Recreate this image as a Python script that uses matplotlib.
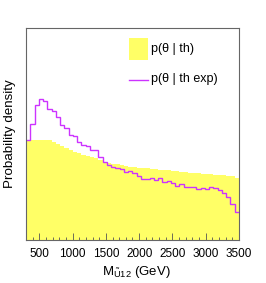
import numpy as np
import matplotlib
matplotlib.use("Agg")
import matplotlib.pyplot as plt
from matplotlib.patches import Rectangle
from matplotlib.lines import Line2D

plt.rcParams['font.family'] = ['Liberation Sans', 'DejaVu Sans']
plt.rcParams['mathtext.fontset'] = 'custom'
plt.rcParams['mathtext.rm'] = 'Liberation Sans'
plt.rcParams['mathtext.it'] = 'Liberation Sans:italic'

# binning
x_min, x_max, n_bins = 300, 3500, 50

# p(theta | th) - yellow filled histogram (arbitrary units)
th = [99, 99.5, 100, 100, 100, 99.5, 98, 96, 94, 91.5,
      90, 88, 86.7, 85, 84, 83, 82, 79.5, 78, 77,
      76, 75.5, 74.5, 74, 73, 72.5, 72.2, 71.8, 71.5, 71,
      70.5, 70, 69.7, 69.5, 69.2, 68.8, 68.3, 67.8, 67.4, 67,
      66.7, 66.4, 66, 65.6, 65.3, 65, 64.6, 64.3, 64, 62]

# p(theta | th exp) - magenta step line
th_exp = [100, 116.5, 135.5, 141.5, 139.5, 131.5, 129.5, 123.5, 115, 111.8,
          105, 104, 97.5, 94.8, 93.5, 89.5, 89.5, 82.5, 77.8, 75,
          73.3, 71.7, 70.7, 68.3, 69.3, 66.7, 64, 60.7, 60.7, 61.7,
          60, 61.7, 58.3, 59.3, 57.3, 54, 55.7, 53.3, 53.3, 52.7,
          50.7, 52.3, 50.7, 52.7, 52.3, 50, 46.7, 43.3, 36, 28.3]

xticks = [500, 1000, 1500, 2000, 2500, 3000, 3500]

edges = np.linspace(x_min, x_max, n_bins + 1)

fig = plt.figure(figsize=(2.66, 2.83), dpi=100)
ax = fig.add_axes([0.0977, 0.152, 0.8008, 0.749])

yellow = '#ffff66'
magenta = '#cc33ff'

ax.stairs(th, edges, fill=True, color=yellow, linewidth=0)
ax.stairs(th_exp, edges, baseline=None, color=magenta, linewidth=1.0)

ax.set_xlim(x_min, x_max)
ax.set_ylim(0, 212)
ax.set_xticks(xticks)
ax.set_xticklabels([str(t) for t in xticks], fontsize=8.5)
ax.set_xticks(np.arange(300, 3501, 100), minor=True)
ax.tick_params(axis='x', which='major', direction='in', length=5, width=0.6,
               color='#555555', pad=5.5)
ax.tick_params(axis='x', which='minor', direction='in', length=2.5, width=0.6,
               color='#555555')
ax.set_yticks([])
for s in ax.spines.values():
    s.set_color('#666666')
    s.set_linewidth(0.8)

ax.set_ylabel('Probability density', fontsize=9.6)
ax.yaxis.set_label_coords(-0.045, 0.5)
ax.set_xlabel(r'M$_{\tilde{\mathrm{U}}\mathrm{12}}$ (GeV)', fontsize=9.5)
ax.xaxis.set_label_coords(0.52, -0.115)

# legend (drawn manually)
ax.add_patch(Rectangle((0.484, 0.849), 0.089, 0.104, transform=ax.transAxes,
                       facecolor=yellow, edgecolor='none'))
ax.text(0.587, 0.900, 'p(θ | th)', transform=ax.transAxes,
        fontsize=9, va='center', ha='left')
ax.add_line(Line2D([0.484, 0.573], [0.755, 0.755], transform=ax.transAxes,
                   color=magenta, linewidth=1.0))
ax.text(0.587, 0.758, 'p(θ | th exp)', transform=ax.transAxes,
        fontsize=9, va='center', ha='left')

fig.savefig('out.png', dpi=100)
